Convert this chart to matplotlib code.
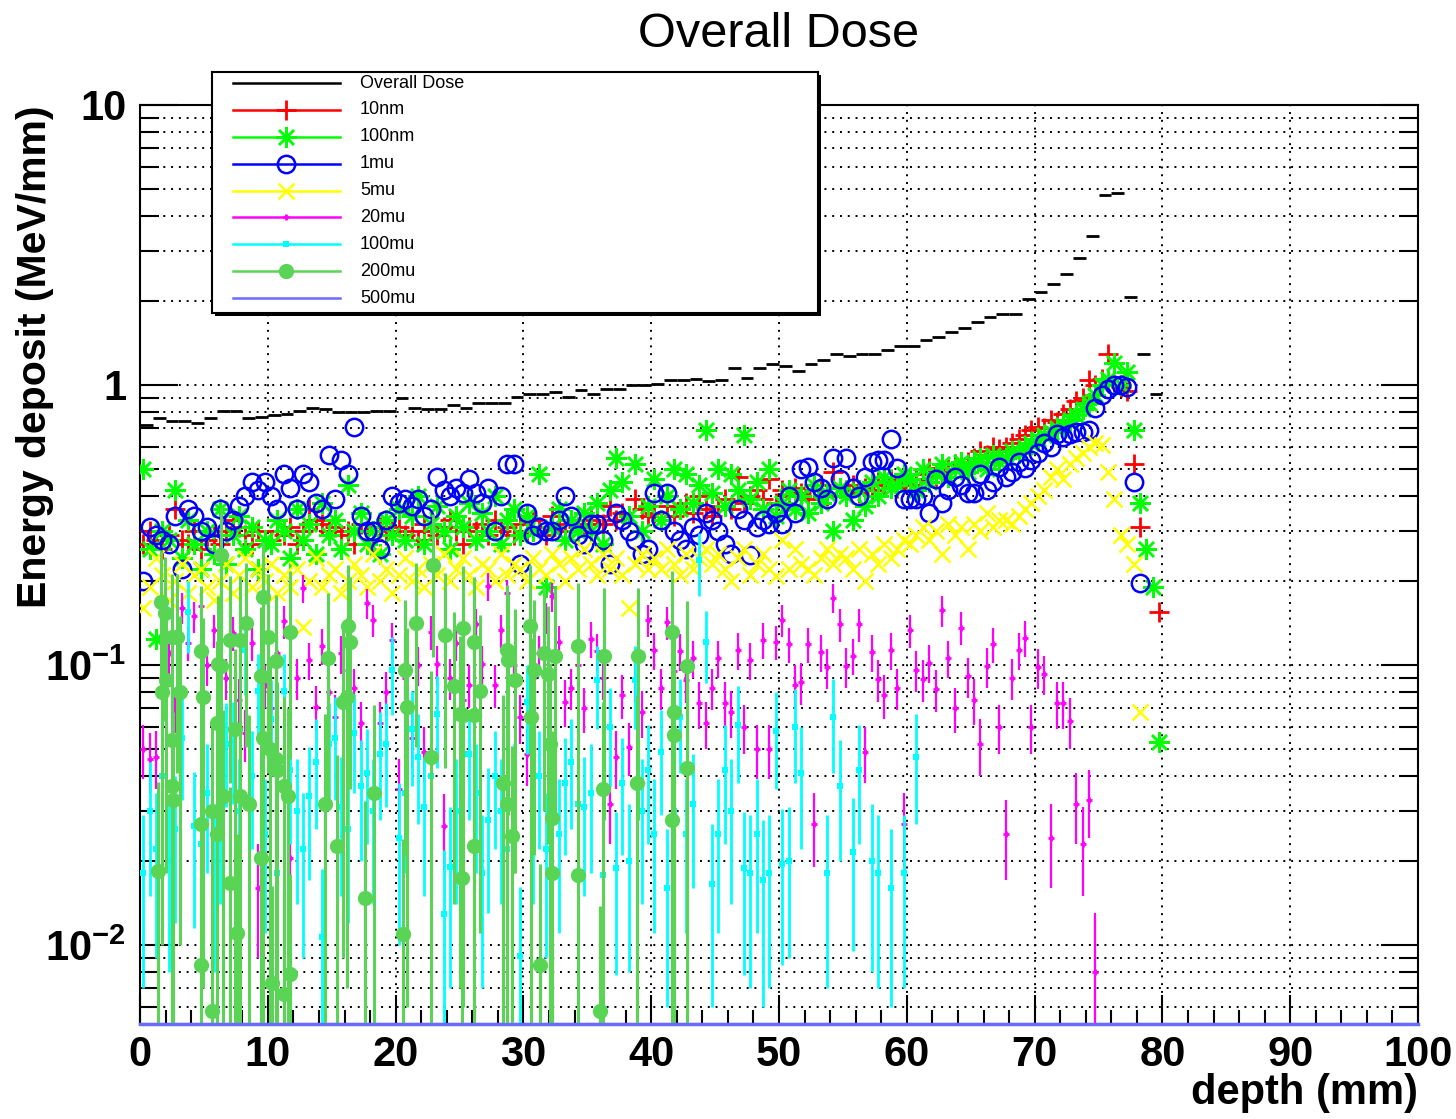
import numpy as np
import matplotlib
matplotlib.use("Agg")
import matplotlib.pyplot as plt
from matplotlib.ticker import FixedLocator, FixedFormatter, MultipleLocator, NullFormatter
from matplotlib.lines import Line2D
from matplotlib.patches import Rectangle

plt.rcParams["font.family"] = ["Liberation Sans", "DejaVu Sans"]
plt.rcParams["mathtext.fontset"] = "custom"
plt.rcParams["mathtext.rm"] = "Liberation Sans:bold"
plt.rcParams["mathtext.bf"] = "Liberation Sans:bold"
plt.rcParams["mathtext.default"] = "bf"

nan = np.nan

# ---------------- data ----------------
# overall dose, 1 mm bins from 0 to 80 mm
dose_edges = np.arange(0, 81)
overall_dose = [
    0.72, 0.76, 0.745, 0.745, 0.73, 0.76, 0.81, 0.81, 0.76, 0.77,
    0.78, 0.79, 0.81, 0.83, 0.82, 0.80, 0.80, 0.80, 0.81, 0.81,
    0.90, 0.83, 0.82, 0.82, 0.85, 0.83, 0.86, 0.86, 0.86, 0.905,
    0.93, 0.93, 0.945, 0.905, 0.96, 0.93, 0.97, 0.97, 1.0, 1.0,
    1.01, 1.04, 1.04, 1.05, 1.03, 1.04, 1.15, 1.06, 1.15, 1.19,
    1.17, 1.12, 1.19, 1.23, 1.29, 1.27, 1.29, 1.29, 1.33, 1.38,
    1.38, 1.45, 1.48, 1.55, 1.60, 1.68, 1.75, 1.79, 1.79, 2.03,
    2.15, 2.29, 2.49, 2.84, 3.40, 4.77, 4.85, 2.06, 1.29, 0.93,
]

# 0.5 mm bins for the particle-size series
depth = np.arange(0.25, 80, 0.5)

dose_10nm = [
    0.27, 0.30, 0.28, 0.26, 0.29, 0.36, 0.28, 0.27, 0.30, 0.26,
    0.28, 0.29, 0.27, 0.30, 0.33, 0.31, 0.29, 0.27, 0.30, 0.28,
    0.28, 0.30, 0.29, 0.31, 0.27, 0.30, 0.36, 0.33, 0.32, 0.30,
    0.31, 0.29, 0.30, 0.27, 0.32, 0.30, 0.28, 0.31, 0.29, 0.30,
    0.31, 0.29, 0.30, 0.28, 0.32, 0.30, 0.29, 0.31, 0.33, 0.30,
    0.27, 0.31, 0.30, 0.32, 0.29, 0.33, 0.30, 0.31, 0.29, 0.32,
    0.30, 0.33, 0.31, 0.29, 0.34, 0.32, 0.30, 0.33, 0.31, 0.32,
    0.33, 0.34, 0.32, 0.37, 0.33, 0.35, 0.34, 0.39, 0.36, 0.34,
    0.35, 0.33, 0.37, 0.34, 0.36, 0.38, 0.35, 0.40, 0.36, 0.34,
    0.37, 0.39, 0.36, 0.47, 0.38, 0.40, 0.42, 0.39, 0.46, 0.38,
    0.42, 0.40, 0.43, 0.41, 0.39, 0.42, 0.44, 0.40, 0.49, 0.43,
    0.42, 0.44, 0.41, 0.43, 0.42, 0.45, 0.44, 0.46, 0.43, 0.45,
    0.44, 0.46, 0.48, 0.505, 0.47, 0.49, 0.50, 0.52, 0.51, 0.53,
    0.55, 0.58, 0.56, 0.60, 0.59, 0.60, 0.62, 0.64, 0.66, 0.69,
    0.71, 0.70, 0.75, 0.74, 0.79, 0.82, 0.88, 0.90, 1.04, 1.00,
    1.05, 1.29, 1.00, 0.98, 0.95, 0.52, 0.31, nan, nan, 0.155,
]

dose_100nm = [
    0.50, 0.26, 0.124, 0.30, 0.28, 0.42, 0.24, 0.33, 0.27, 0.22,
    0.30, 0.25, 0.36, 0.23, 0.29, 0.34, 0.26, 0.31, 0.22, 0.28,
    0.27, 0.33, 0.30, 0.24, 0.36, 0.28, 0.32, 0.25, 0.38, 0.29,
    0.33, 0.26, 0.44, 0.30, 0.35, 0.27, 0.30, 0.25, 0.33, 0.29,
    0.36, 0.28, 0.34, 0.40, 0.27, 0.32, 0.37, 0.30, 0.26, 0.34,
    0.31, 0.38, 0.28, 0.35, 0.30, 0.40, 0.27, 0.33, 0.36, 0.29,
    0.34, 0.30, 0.48, 0.19, 0.31, 0.36, 0.28, 0.33, 0.30, 0.35,
    0.30, 0.38, 0.27, 0.42, 0.55, 0.45, 0.34, 0.52, 0.30, 0.37,
    0.46, 0.33, 0.40, 0.50, 0.36, 0.48, 0.38, 0.44, 0.69, 0.41,
    0.50, 0.37, 0.48, 0.42, 0.66, 0.39, 0.45, 0.36, 0.50, 0.34,
    0.38, 0.42, 0.36, 0.40, 0.35, 0.44, 0.38, 0.41, 0.30, 0.43,
    0.40, 0.33, 0.42, 0.37, 0.45, 0.40, 0.47, 0.43, 0.44, 0.48,
    0.46, 0.42, 0.50, 0.45, 0.48, 0.52, 0.47, 0.50, 0.53, 0.49,
    0.52, 0.55, 0.50, 0.56, 0.53, 0.55, 0.58, 0.57, 0.60, 0.62,
    0.64, 0.66, 0.68, 0.70, 0.72, 0.75, 0.78, 0.82, 0.86, 0.92,
    1.00, 1.05, 1.20, 1.00, 1.11, 0.69, 0.38, 0.26, 0.19, 0.053,
]

dose_1mu = [
    0.20, 0.31, 0.29, 0.28, 0.27, 0.34, 0.22, 0.36, 0.34, 0.30,
    0.31, 0.27, 0.36, 0.30, 0.33, 0.37, 0.40, 0.45, 0.42, 0.45,
    0.40, 0.36, 0.48, 0.43, 0.36, 0.48, 0.45, 0.38, 0.36, 0.56,
    0.39, 0.54, 0.48, 0.71, 0.34, 0.30, 0.30, 0.26, 0.33, 0.40,
    0.38, 0.39, 0.37, 0.39, 0.34, 0.36, 0.47, 0.42, 0.40, 0.43,
    0.41, 0.46, 0.41, 0.38, 0.43, 0.30, 0.40, 0.52, 0.52, 0.23,
    0.35, 0.29, 0.31, 0.30, 0.30, 0.33, 0.40, 0.34, 0.29, 0.27,
    0.32, 0.32, 0.28, 0.23, 0.35, 0.33, 0.30, 0.28, 0.25, 0.26,
    0.41, 0.33, 0.41, 0.30, 0.28, 0.26, 0.31, 0.29, 0.35, 0.33,
    0.30, 0.27, 0.25, 0.36, 0.33, 0.246, 0.31, 0.33, 0.32, 0.35,
    0.32, 0.40, 0.35, 0.50, 0.51, 0.45, 0.43, 0.39, 0.55, 0.46,
    0.55, 0.43, 0.40, 0.47, 0.53, 0.54, 0.54, 0.64, 0.505, 0.39,
    0.39, 0.39, 0.40, 0.35, 0.46, 0.38, 0.42, 0.47, 0.44, 0.41,
    0.41, 0.48, 0.42, 0.45, 0.51, 0.47, 0.49, 0.53, 0.505, 0.54,
    0.57, 0.62, 0.60, 0.67, 0.65, 0.67, 0.68, 0.68, 0.69, 0.83,
    0.92, 0.97, 1.00, 1.00, 0.98, 0.45, 0.196, nan, nan, nan,
]

dose_5mu = [
    0.16, 0.19, 0.24, 0.21, 0.17, 0.20, 0.23, 0.18, 0.21, 0.22,
    0.19, 0.17, 0.20, 0.23, 0.18, 0.21, 0.24, 0.19, 0.22, 0.20,
    0.23, 0.18, 0.21, 0.19, 0.22, 0.137, 0.20, 0.24, 0.19, 0.21,
    0.22, 0.18, 0.20, 0.23, 0.21, 0.19, 0.25, 0.20, 0.22, 0.18,
    0.21, 0.24, 0.20, 0.22, 0.19, 0.23, 0.21, 0.25, 0.20, 0.22,
    0.24, 0.21, 0.19, 0.23, 0.22, 0.20, 0.25, 0.21, 0.23, 0.22,
    0.20, 0.24, 0.22, 0.21, 0.25, 0.23, 0.20, 0.24, 0.22, 0.26,
    0.23, 0.21, 0.25, 0.22, 0.24, 0.21, 0.16, 0.23, 0.25, 0.22,
    0.24, 0.22, 0.26, 0.23, 0.21, 0.25, 0.22, 0.24, 0.26, 0.23,
    0.25, 0.22, 0.20, 0.24, 0.26, 0.21, 0.23, 0.25, 0.22, 0.208,
    0.28, 0.22, 0.26, 0.23, 0.22, 0.21, 0.24, 0.26, 0.23, 0.25,
    0.24, 0.22, 0.26, 0.20, 0.25, 0.23, 0.27, 0.24, 0.26, 0.28,
    0.27, 0.29, 0.31, 0.28, 0.30, 0.25, 0.32, 0.29, 0.31, 0.26,
    0.32, 0.30, 0.35, 0.31, 0.33, 0.33, 0.32, 0.34, 0.36, 0.38,
    0.40, 0.42, 0.47, 0.50, 0.46, 0.52, 0.55, 0.57, 0.60, 0.62,
    0.61, 0.49, 0.39, 0.29, 0.27, 0.23, 0.068, nan, nan, nan,
]

dose_20mu = [
    0.050, 0.046, 0.047, 0.09, 0.11, 0.07, 0.16, 0.12, 0.149, 0.162,
    0.10, 0.133, 0.045, 0.09, 0.13, 0.075, 0.057, 0.12, 0.016, 0.085,
    0.07, 0.11, 0.143, 0.0205, 0.09, 0.188, 0.104, 0.071, 0.117, 0.08,
    0.065, 0.11, 0.096, 0.083, 0.062, 0.166, 0.145, 0.062, 0.08, 0.123,
    0.036, 0.09, 0.055, 0.10, 0.049, 0.131, 0.101, 0.0265, 0.09, 0.12,
    0.075, 0.085, 0.14, 0.101, 0.191, 0.085, 0.133, 0.18, 0.10, 0.065,
    0.048, 0.09, 0.11, 0.148, 0.176, 0.121, 0.074, 0.083, 0.10, 0.07,
    0.124, 0.112, 0.09, 0.032, 0.047, 0.078, 0.051, 0.089, 0.068, 0.145,
    0.113, 0.083, 0.142, 0.095, 0.112, 0.088, 0.106, 0.073, 0.062, 0.083,
    0.106, 0.073, 0.068, 0.113, 0.06, 0.104, 0.05, 0.123, 0.05, 0.121,
    0.145, 0.119, 0.085, 0.087, 0.119, 0.027, 0.111, 0.098, 0.174, 0.14,
    0.099, 0.108, 0.14, 0.049, 0.111, 0.089, 0.078, 0.113, 0.083, 0.027,
    0.133, 0.096, 0.089, 0.102, 0.082, 0.157, 0.106, 0.07, 0.136, 0.091,
    0.075, 0.052, 0.099, 0.119, 0.06, 0.025, 0.09, 0.113, 0.125, 0.06,
    0.098, 0.093, 0.024, 0.073, 0.073, 0.063, 0.032, 0.023, 0.033, 0.008,
    nan, nan, nan, nan, nan, nan, nan, nan, nan, nan,
]
err_20mu = [
    0.011, 0.011, 0.011, 0.015, 0.017, 0.013, 0.02, 0.017, 0.019, 0.02,
    0.016, 0.018, 0.011, 0.015, 0.018, 0.014, 0.012, 0.017, 0.007, 0.015,
    0.013, 0.017, 0.019, 0.008, 0.015, 0.021, 0.016, 0.013, 0.017, 0.014,
    0.013, 0.017, 0.016, 0.014, 0.012, 0.02, 0.019, 0.012, 0.014, 0.018,
    0.01, 0.015, 0.012, 0.016, 0.011, 0.018, 0.016, 0.008, 0.015, 0.017,
    0.014, 0.015, 0.019, 0.016, 0.022, 0.015, 0.018, 0.021, 0.016, 0.013,
    0.011, 0.015, 0.017, 0.019, 0.021, 0.017, 0.014, 0.014, 0.016, 0.013,
    0.018, 0.017, 0.015, 0.009, 0.011, 0.014, 0.011, 0.015, 0.013, 0.019,
    0.017, 0.014, 0.019, 0.015, 0.017, 0.015, 0.016, 0.014, 0.012, 0.014,
    0.016, 0.014, 0.013, 0.017, 0.012, 0.016, 0.011, 0.018, 0.011, 0.017,
    0.019, 0.017, 0.015, 0.015, 0.017, 0.008, 0.017, 0.016, 0.021, 0.019,
    0.016, 0.016, 0.019, 0.011, 0.017, 0.015, 0.014, 0.017, 0.014, 0.008,
    0.018, 0.016, 0.015, 0.016, 0.014, 0.02, 0.016, 0.013, 0.018, 0.015,
    0.014, 0.012, 0.016, 0.017, 0.012, 0.008, 0.015, 0.017, 0.018, 0.012,
    0.016, 0.015, 0.008, 0.014, 0.014, 0.013, 0.009, 0.008, 0.009, 0.005,
    0, 0, 0, 0, 0, 0, 0, 0, 0, 0,
]

dose_100mu = [
    0.018, 0.03, 0.022, 0.04, 0.02, 0.026, 0.055, 0.155, 0.0265, 0.023,
    0.035, 0.02, 0.029, 0.052, 0.053, 0.03, 0.113, 0.04, 0.081, 0.025,
    0.064, 0.018, 0.081, 0.042, 0.03, 0.022, 0.034, 0.045, 0.0107, 0.052,
    0.055, 0.031, 0.026, 0.057, 0.037, 0.041, 0.03, 0.048, 0.052, 0.096,
    0.024, 0.035, 0.059, 0.047, 0.031, 0.04, 0.067, 0.0129, 0.019, 0.03,
    0.048, 0.048, 0.035, 0.018, 0.028, 0.04, 0.03, 0.022, 0.035, 0.0091,
    0.074, 0.03, 0.04, 0.022, 0.03, 0.025, 0.038, 0.045, 0.032, 0.031,
    0.035, 0.088, 0.0178, 0.06, 0.0188, 0.038, 0.02, 0.088, 0.03, 0.042,
    0.025, 0.049, 0.016, 0.03, 0.065, 0.025, 0.032, 0.237, 0.121, 0.0165,
    0.025, 0.042, 0.03, 0.061, 0.0188, 0.018, 0.025, 0.017, 0.018, 0.058,
    0.0195, 0.02, 0.06, 0.041, nan, nan, nan, 0.018, 0.065, 0.037,
    nan, 0.0215, 0.042, nan, 0.02, 0.018, nan, 0.016, nan, 0.018,
    nan, 0.047, nan, nan, nan, nan, nan, nan, nan, nan,
    nan, nan, nan, nan, nan, nan, nan, nan, nan, nan,
    nan, nan, nan, nan, nan, nan, nan, nan, nan, nan,
    nan, nan, nan, nan, nan, nan, nan, nan, nan, nan,
]
err_100mu = [
    0.011, 0.015, 0.013, 0.018, 0.012, 0.014, 0.022, 0.045, 0.015, 0.013,
    0.017, 0.012, 0.015, 0.021, 0.021, 0.016, 0.035, 0.018, 0.028, 0.014,
    0.024, 0.011, 0.028, 0.019, 0.016, 0.013, 0.017, 0.019, 0.008, 0.021,
    0.022, 0.016, 0.014, 0.022, 0.017, 0.018, 0.016, 0.02, 0.021, 0.03,
    0.014, 0.017, 0.022, 0.02, 0.016, 0.018, 0.024, 0.009, 0.012, 0.016,
    0.02, 0.02, 0.017, 0.011, 0.015, 0.018, 0.016, 0.013, 0.017, 0.007,
    0.026, 0.016, 0.018, 0.013, 0.016, 0.014, 0.017, 0.019, 0.016, 0.016,
    0.017, 0.029, 0.011, 0.023, 0.011, 0.017, 0.012, 0.029, 0.016, 0.019,
    0.014, 0.02, 0.01, 0.016, 0.024, 0.014, 0.016, 0.06, 0.035, 0.0105,
    0.014, 0.019, 0.016, 0.023, 0.011, 0.011, 0.014, 0.011, 0.011, 0.022,
    0.011, 0.011, 0.022, 0.019, 0, 0, 0, 0.011, 0.024, 0.017,
    0, 0.012, 0.019, 0, 0.012, 0.011, 0, 0.01, 0, 0.011,
    0, 0.02, 0, 0, 0, 0, 0, 0, 0, 0,
    0, 0, 0, 0, 0, 0, 0, 0, 0, 0,
    0, 0, 0, 0, 0, 0, 0, 0, 0, 0,
    0, 0, 0, 0, 0, 0, 0, 0, 0, 0,
]

# 200mu: only non-empty bins, with their depths
depth_200mu = [
    1.6, 1.95, 2.5, 2.9, 2.0, 1.7, 3.1, 2.5, 2.5, 2.6,
    1.4, 4.8, 4.9, 4.8, 4.8, 5.6, 6.1, 6.3, 6.0, 5.6,
    6.0, 6.5, 6.3, 7.0, 7.8, 7.4, 7.8, 8.5, 7.0, 7.6,
    8.3, 9.6, 9.5, 9.6, 9.5, 10.0, 10.2, 10.6, 10.7, 10.3,
    11.3, 11.3, 11.6, 11.7, 11.7, 10.6, 14.5, 14.7, 15.4, 15.9,
    16.3, 16.4, 16.2, 17.6, 18.3, 20.6, 20.7, 20.9, 21.6, 22.8,
    22.9, 23.9, 24.6, 25.0, 25.2, 25.3, 26.1, 26.6, 26.1, 25.3,
    26.1, 28.7, 28.8, 29.3, 28.4, 28.7, 29.1, 30.5, 30.6, 30.8,
    31.3, 31.6, 31.9, 32.1, 32.2, 32.2, 32.5, 34.3, 34.3, 36.0,
    36.3, 36.2, 39.0, 38.9, 41.6, 41.8, 41.8, 41.6, 42.8, 42.8,
]
dose_200mu = [
    0.168, 0.153, 0.126, 0.126, 0.088, 0.080, 0.080, 0.054, 0.037, 0.033,
    0.0183, 0.112, 0.077, 0.027, 0.0085, 0.0058, 0.101, 0.099, 0.062, 0.030,
    0.025, 0.034, 0.247, 0.123, 0.123, 0.059, 0.034, 0.032, 0.0166, 0.011,
    0.141, 0.175, 0.091, 0.055, 0.0204, 0.126, 0.050, 0.046, 0.042, 0.0073,
    0.0067, 0.037, 0.034, 0.131, 0.0079, 0.103, 0.032, 0.106, 0.0225, 0.074,
    0.138, 0.121, 0.077, 0.0147, 0.035, 0.0109, 0.096, 0.071, 0.141, 0.047,
    0.227, 0.128, 0.084, 0.067, 0.0173, 0.135, 0.121, 0.081, 0.066, 0.066,
    0.0225, 0.113, 0.104, 0.088, 0.038, 0.032, 0.0245, 0.138, 0.065, 0.096,
    0.0085, 0.110, 0.093, 0.052, 0.0283, 0.018, 0.108, 0.117, 0.0178, 0.0058,
    0.108, 0.036, 0.108, 0.038, 0.131, 0.068, 0.056, 0.028, 0.099, 0.043,
]
err_200mu = [
    0.09, 0.09, 0.085, 0.085, 0.07, 0.07, 0.07, 0.055, 0.04, 0.035,
    0.02, 0.08, 0.07, 0.03, 0.01, 0.008, 0.075, 0.075, 0.06, 0.032,
    0.028, 0.035, 0.12, 0.085, 0.085, 0.055, 0.036, 0.034, 0.02, 0.014,
    0.09, 0.10, 0.07, 0.055, 0.022, 0.085, 0.05, 0.048, 0.045, 0.009,
    0.009, 0.04, 0.036, 0.085, 0.01, 0.075, 0.035, 0.075, 0.025, 0.065,
    0.09, 0.085, 0.07, 0.018, 0.037, 0.013, 0.075, 0.065, 0.09, 0.048,
    0.12, 0.085, 0.07, 0.06, 0.02, 0.09, 0.085, 0.07, 0.06, 0.06,
    0.025, 0.08, 0.075, 0.07, 0.04, 0.035, 0.027, 0.09, 0.06, 0.075,
    0.011, 0.08, 0.07, 0.05, 0.03, 0.02, 0.08, 0.08, 0.02, 0.008,
    0.08, 0.038, 0.08, 0.04, 0.085, 0.06, 0.055, 0.03, 0.07, 0.045,
]

# 500mu deposits nothing over the whole range
depth_500mu = np.arange(0, 100.5, 0.5)
dose_500mu = np.zeros(len(depth_500mu))

labels = ["Overall Dose", "10nm", "100nm", "1mu", "5mu", "20mu", "100mu", "200mu", "500mu"]
y_range = (0.00522, 10)

for arr in [dose_10nm, dose_100nm, dose_1mu, dose_5mu, dose_20mu, err_20mu, dose_100mu, err_100mu]:
    assert len(arr) == len(depth), len(arr)
assert len(depth_200mu) == len(dose_200mu) == len(err_200mu)

# ---------------- styles ----------------
asterisk = (8, 2, 0)
styles = {
    "10nm": dict(color="#ff0000", marker="+", ms=14, mew=2.0, mfc="none"),
    "100nm": dict(color="#00ff00", marker=asterisk, ms=15, mew=1.8, mfc="none"),
    "1mu": dict(color="#0000ff", marker="o", ms=12.5, mew=1.8, mfc="none"),
    "5mu": dict(color="#ffff00", marker="x", ms=12, mew=1.8, mfc="none"),
    "20mu": dict(color="#ff00ff", marker="+", ms=5, mew=2.0),
    "100mu": dict(color="#00ffff", marker="s", ms=4, mew=0),
    "200mu": dict(color="#59d454", marker="o", ms=11, mew=0),
}
c500 = "#6b6bff"

fig = plt.figure(figsize=(14.56, 11.19), dpi=100)
ax = fig.add_axes([0.0962, 0.0849, 0.8777, 0.8213])
ax.set_yscale("log")
ax.set_xlim(0, 100)
ax.set_ylim(*y_range)

# grid
ax.set_axisbelow(True)
ax.grid(True, axis="x", which="major", color="k", ls=(0, (1, 3)), lw=1.4)
ax.grid(True, axis="y", which="both", color="k", ls=(0, (1, 3)), lw=1.4)

# overall dose histogram
ax.hlines(overall_dose, dose_edges[:-1], dose_edges[1:], colors="k", lw=2.0, zorder=3)

for name, vals in [("10nm", dose_10nm), ("100nm", dose_100nm), ("1mu", dose_1mu), ("5mu", dose_5mu)]:
    ax.plot(depth, vals, ls="none", zorder=4, **styles[name])

ax.errorbar(depth, dose_20mu, yerr=err_20mu, ls="none", elinewidth=1.6, capsize=0, zorder=5, **styles["20mu"])
ax.errorbar(depth, dose_100mu, yerr=err_100mu, ls="none", elinewidth=2.0, capsize=0, zorder=6, **styles["100mu"])
ax.errorbar(depth_200mu, dose_200mu, yerr=err_200mu, ls="none", elinewidth=2.2, capsize=0, zorder=7, **styles["200mu"])

# zero deposits sit on the lower edge of the log axis
ax.plot(depth_500mu, np.clip(dose_500mu, y_range[0], None), color=c500, lw=2.5, clip_on=False, zorder=8)

# ticks
ax.xaxis.set_major_locator(MultipleLocator(10))
ax.xaxis.set_minor_locator(MultipleLocator(2))
ax.tick_params(axis="x", which="major", direction="in", length=21, width=1.5, labelsize=30, pad=8)
ax.tick_params(axis="x", which="minor", direction="in", length=10, width=1.5)
for t in ax.get_xticklabels():
    t.set_fontweight("bold")

decades = [0.01, 0.1, 1, 10]
ax.yaxis.set_major_locator(FixedLocator(decades))
ax.yaxis.set_major_formatter(FixedFormatter([r"$10^{-2}$", r"$10^{-1}$", "1", "10"]))
minors = [m * d for d in [0.001, 0.01, 0.1, 1] for m in range(2, 10)]
ax.yaxis.set_minor_locator(FixedLocator(minors))
ax.yaxis.set_minor_formatter(NullFormatter())
ax.tick_params(axis="y", which="major", direction="in", length=27, width=1.5, labelsize=30, pad=10, right=True)
ax.tick_params(axis="y", which="minor", direction="in", length=14, width=1.5, right=True)
for t in ax.get_yticklabels():
    t.set_fontweight("bold")
for s in ax.spines.values():
    s.set_linewidth(1.5)

# titles
fig.text(0.535, 0.969, "Overall Dose", ha="center", va="center", fontsize=35)
fig.text(0.974, 0.023, "depth (mm)", ha="right", va="center", fontsize=30, fontweight="bold")
fig.text(0.024, 0.906, "Energy deposit (MeV/mm)", ha="center", va="top", rotation=90,
         fontsize=29.5, fontweight="bold")

# legend box
lx, ly, lw_, lh = 0.1456, 0.7203, 0.4162, 0.2154
shadow = Rectangle((lx + 0.002, ly - 0.0027), lw_, lh, transform=fig.transFigure,
                   facecolor="k", edgecolor="none", zorder=1)
fig.patches.append(shadow)
leg = fig.add_axes([lx, ly, lw_, lh], zorder=2)
leg.set_xlim(0, 1)
leg.set_ylim(0, 1)
leg.set_xticks([])
leg.set_yticks([])
leg.set_facecolor("white")
for s in leg.spines.values():
    s.set_linewidth(1.5)

entry_styles = [
    dict(color="k", marker=None),
    styles["10nm"], styles["100nm"], styles["1mu"], styles["5mu"],
    styles["20mu"], styles["100mu"], styles["200mu"],
    dict(color=c500, marker=None),
]
for k, (lab, st) in enumerate(zip(labels, entry_styles)):
    yk = 0.954 - k * 0.1115
    leg.add_line(Line2D([0.035, 0.211], [yk, yk], color=st["color"], lw=1.8))
    if st.get("marker") is not None:
        mst = {key: v for key, v in st.items() if key != "color"}
        leg.plot([0.122], [yk], ls="none", color=st["color"], **mst)
    leg.text(0.244, yk, lab, ha="left", va="center", fontsize=13)

fig.savefig("out.png", dpi=100)
